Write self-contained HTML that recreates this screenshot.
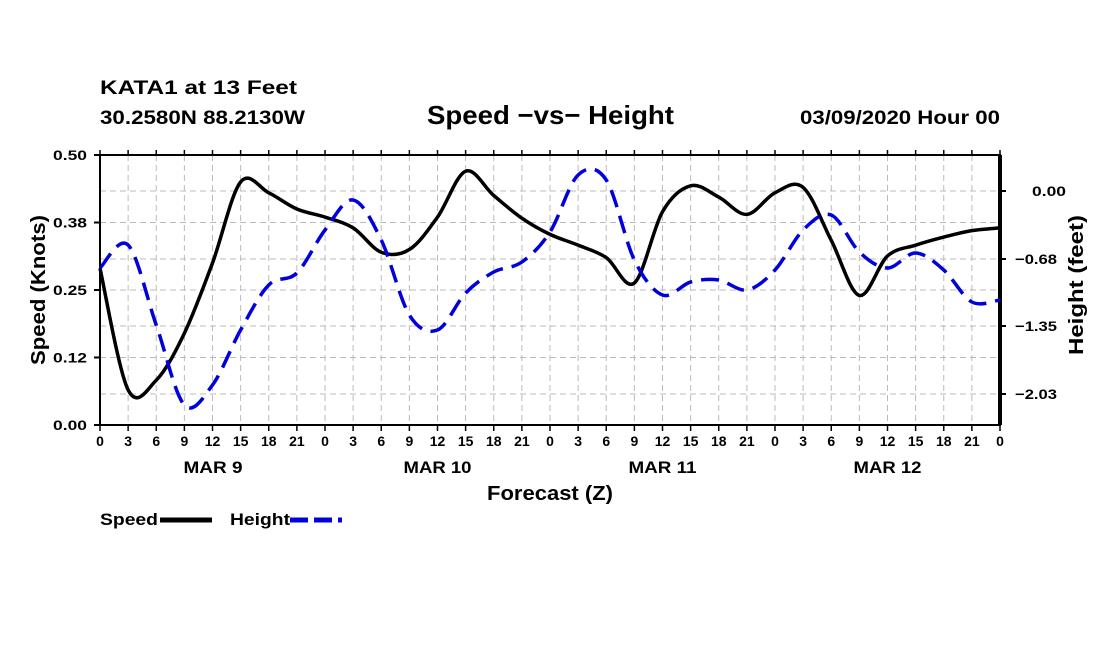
<!DOCTYPE html>
<html><head><meta charset="utf-8"><style>
body{margin:0;background:#fff;width:1100px;height:650px;overflow:hidden}
svg text{font-family:"Liberation Sans",sans-serif;font-weight:bold;fill:#000}
</style></head><body>
<svg id="chart" width="1100" height="650">
<text x="100" y="94" font-size="19" textLength="197" lengthAdjust="spacingAndGlyphs">KATA1 at 13 Feet</text>
<text x="100" y="124" font-size="19" textLength="205" lengthAdjust="spacingAndGlyphs">30.2580N 88.2130W</text>
<text x="427" y="124" font-size="26" textLength="247" lengthAdjust="spacingAndGlyphs">Speed −vs− Height</text>
<text x="800" y="124" font-size="19" textLength="200" lengthAdjust="spacingAndGlyphs">03/09/2020 Hour 00</text>
<g id="grid"></g>
<g id="axes"></g>
<path id="speedLine" fill="none" stroke="#000" stroke-width="3.5"/>
<path id="heightLine" fill="none" stroke="#0000dd" stroke-width="3.5" stroke-dasharray="18,9"/>
<text transform="translate(45,365) rotate(-90)" font-size="20" textLength="150" lengthAdjust="spacingAndGlyphs">Speed (Knots)</text>
<text transform="translate(1083,355) rotate(-90)" font-size="20" textLength="140" lengthAdjust="spacingAndGlyphs">Height (feet)</text>
<text x="487" y="500" font-size="20" textLength="126" lengthAdjust="spacingAndGlyphs">Forecast (Z)</text>
<g><text x="100" y="525" font-size="17" textLength="58" lengthAdjust="spacingAndGlyphs">Speed</text><line x1="160" y1="520" x2="212" y2="520" stroke="#000" stroke-width="5"/></g>
<g><text x="230" y="525" font-size="17" textLength="60" lengthAdjust="spacingAndGlyphs">Height</text><line x1="290" y1="520" x2="342" y2="520" stroke="#0000dd" stroke-width="5" stroke-dasharray="18,6"/></g>
</svg>
<script>
const hours=[0,3,6,9,12,15,18,21,24,27,30,33,36,39,42,45,48,51,54,57,60,63,66,69,72,75,78,81,84,87,90,93,96];
const speed=[0.29,0.065,0.083,0.17,0.30,0.45,0.43,0.40,0.385,0.365,0.32,0.325,0.385,0.47,0.425,0.383,0.353,0.333,0.31,0.263,0.395,0.443,0.422,0.39,0.43,0.44,0.342,0.24,0.313,0.333,0.348,0.36,0.365];
const height=[-0.77,-0.54,-1.34,-2.14,-1.94,-1.39,-0.94,-0.82,-0.39,-0.09,-0.49,-1.24,-1.39,-1.02,-0.81,-0.71,-0.41,0.16,0.11,-0.69,-1.04,-0.91,-0.89,-0.99,-0.79,-0.39,-0.24,-0.61,-0.77,-0.62,-0.79,-1.11,-1.09];
const speedTicks=["0.00","0.12","0.25","0.38","0.50"];
const heightTicks=["0.00","-0.68","-1.35","-2.03"];
const dayLabels=["MAR 9","MAR 10","MAR 11","MAR 12"];
const L=100,R=1000,T=155,B=425;
const xs=h=>L+(h/96)*(R-L);
const ys=s=>B-s/0.5*(B-T);
const yh=f=>191-f*100;
const NS="http://www.w3.org/2000/svg";
function mk(tag,attrs,parent){const e=document.createElementNS(NS,tag);for(const k in attrs)e.setAttribute(k,attrs[k]);parent.appendChild(e);return e;}
const grid=document.getElementById('grid'),axes=document.getElementById('axes');
for(let h=3;h<96;h+=3){const g=mk('line',{x1:xs(h),x2:xs(h),y1:T,y2:B,stroke:'#bbb','stroke-dasharray':'6,4'},grid);

}
speedTicks.forEach((t,i)=>{const y=ys(i*0.125);
if(i>0&&i<4){const g=mk('line',{x1:L,x2:R,y1:y,y2:y,stroke:'#bbb','stroke-dasharray':'6,4'},grid);

}
mk('line',{x1:L-6,x2:L,y1:y,y2:y,stroke:'#000','stroke-width':2},axes);
const tx=mk('text',{x:53,y:y+5,'font-size':14,textLength:34,lengthAdjust:'spacingAndGlyphs'},axes);tx.textContent=t;

});
heightTicks.forEach(t=>{const y=yh(parseFloat(t));
const g=mk('line',{x1:L,x2:R,y1:y,y2:y,stroke:'#bbb','stroke-dasharray':'6,4'},grid);


mk('line',{x1:R,x2:R+6,y1:y,y2:y,stroke:'#000','stroke-width':2},axes);
const neg=t.startsWith('-');
const tx=mk('text',{x:neg?1015:1032,y:y+5,'font-size':14,textLength:neg?42:34,lengthAdjust:'spacingAndGlyphs'},axes);tx.textContent=t.replace('-','−');

});
mk('rect',{x:L,y:T,width:R-L,height:B-T,fill:'none',stroke:'#000','stroke-width':2},axes);
mk('line',{x1:R,x2:R,y1:T,y2:B,stroke:'#000','stroke-width':4},axes);
for(let h=0;h<=96;h+=3){const x=xs(h);
mk('line',{x1:x,x2:x,y1:B,y2:B+6,stroke:'#000','stroke-width':1.5},axes);
mk('line',{x1:x,x2:x,y1:T-5,y2:T,stroke:'#000','stroke-width':1.5},axes);
const tx=mk('text',{x:x,y:B+21,'font-size':14,'text-anchor':'middle'},axes);tx.textContent=String(h%24);

}
dayLabels.forEach((d,i)=>{const tx=mk('text',{x:xs(12+24*i)-29,y:473,'font-size':17,textLength:d.length>5?68:59,lengthAdjust:'spacingAndGlyphs'},axes);tx.textContent=d;
if(d.length>5)tx.setAttribute('x',xs(12+24*i)-34);

});
function smooth(pts){let d=`M${pts[0][0]},${pts[0][1]}`;
for(let i=0;i<pts.length-1;i++){const p0=pts[i-1]||pts[i],p1=pts[i],p2=pts[i+1],p3=pts[i+2]||p2;
const c1=[p1[0]+(p2[0]-p0[0])/6,p1[1]+(p2[1]-p0[1])/6],c2=[p2[0]-(p3[0]-p1[0])/6,p2[1]-(p3[1]-p1[1])/6];
d+=`C${c1[0]},${c1[1]} ${c2[0]},${c2[1]} ${p2[0]},${p2[1]}`;}return d;}
document.getElementById('speedLine').setAttribute('d',smooth(hours.map((h,i)=>[xs(h),ys(speed[i])])));
document.getElementById('heightLine').setAttribute('d',smooth(hours.map((h,i)=>[xs(h),yh(height[i])])));
</script>
</body></html>
